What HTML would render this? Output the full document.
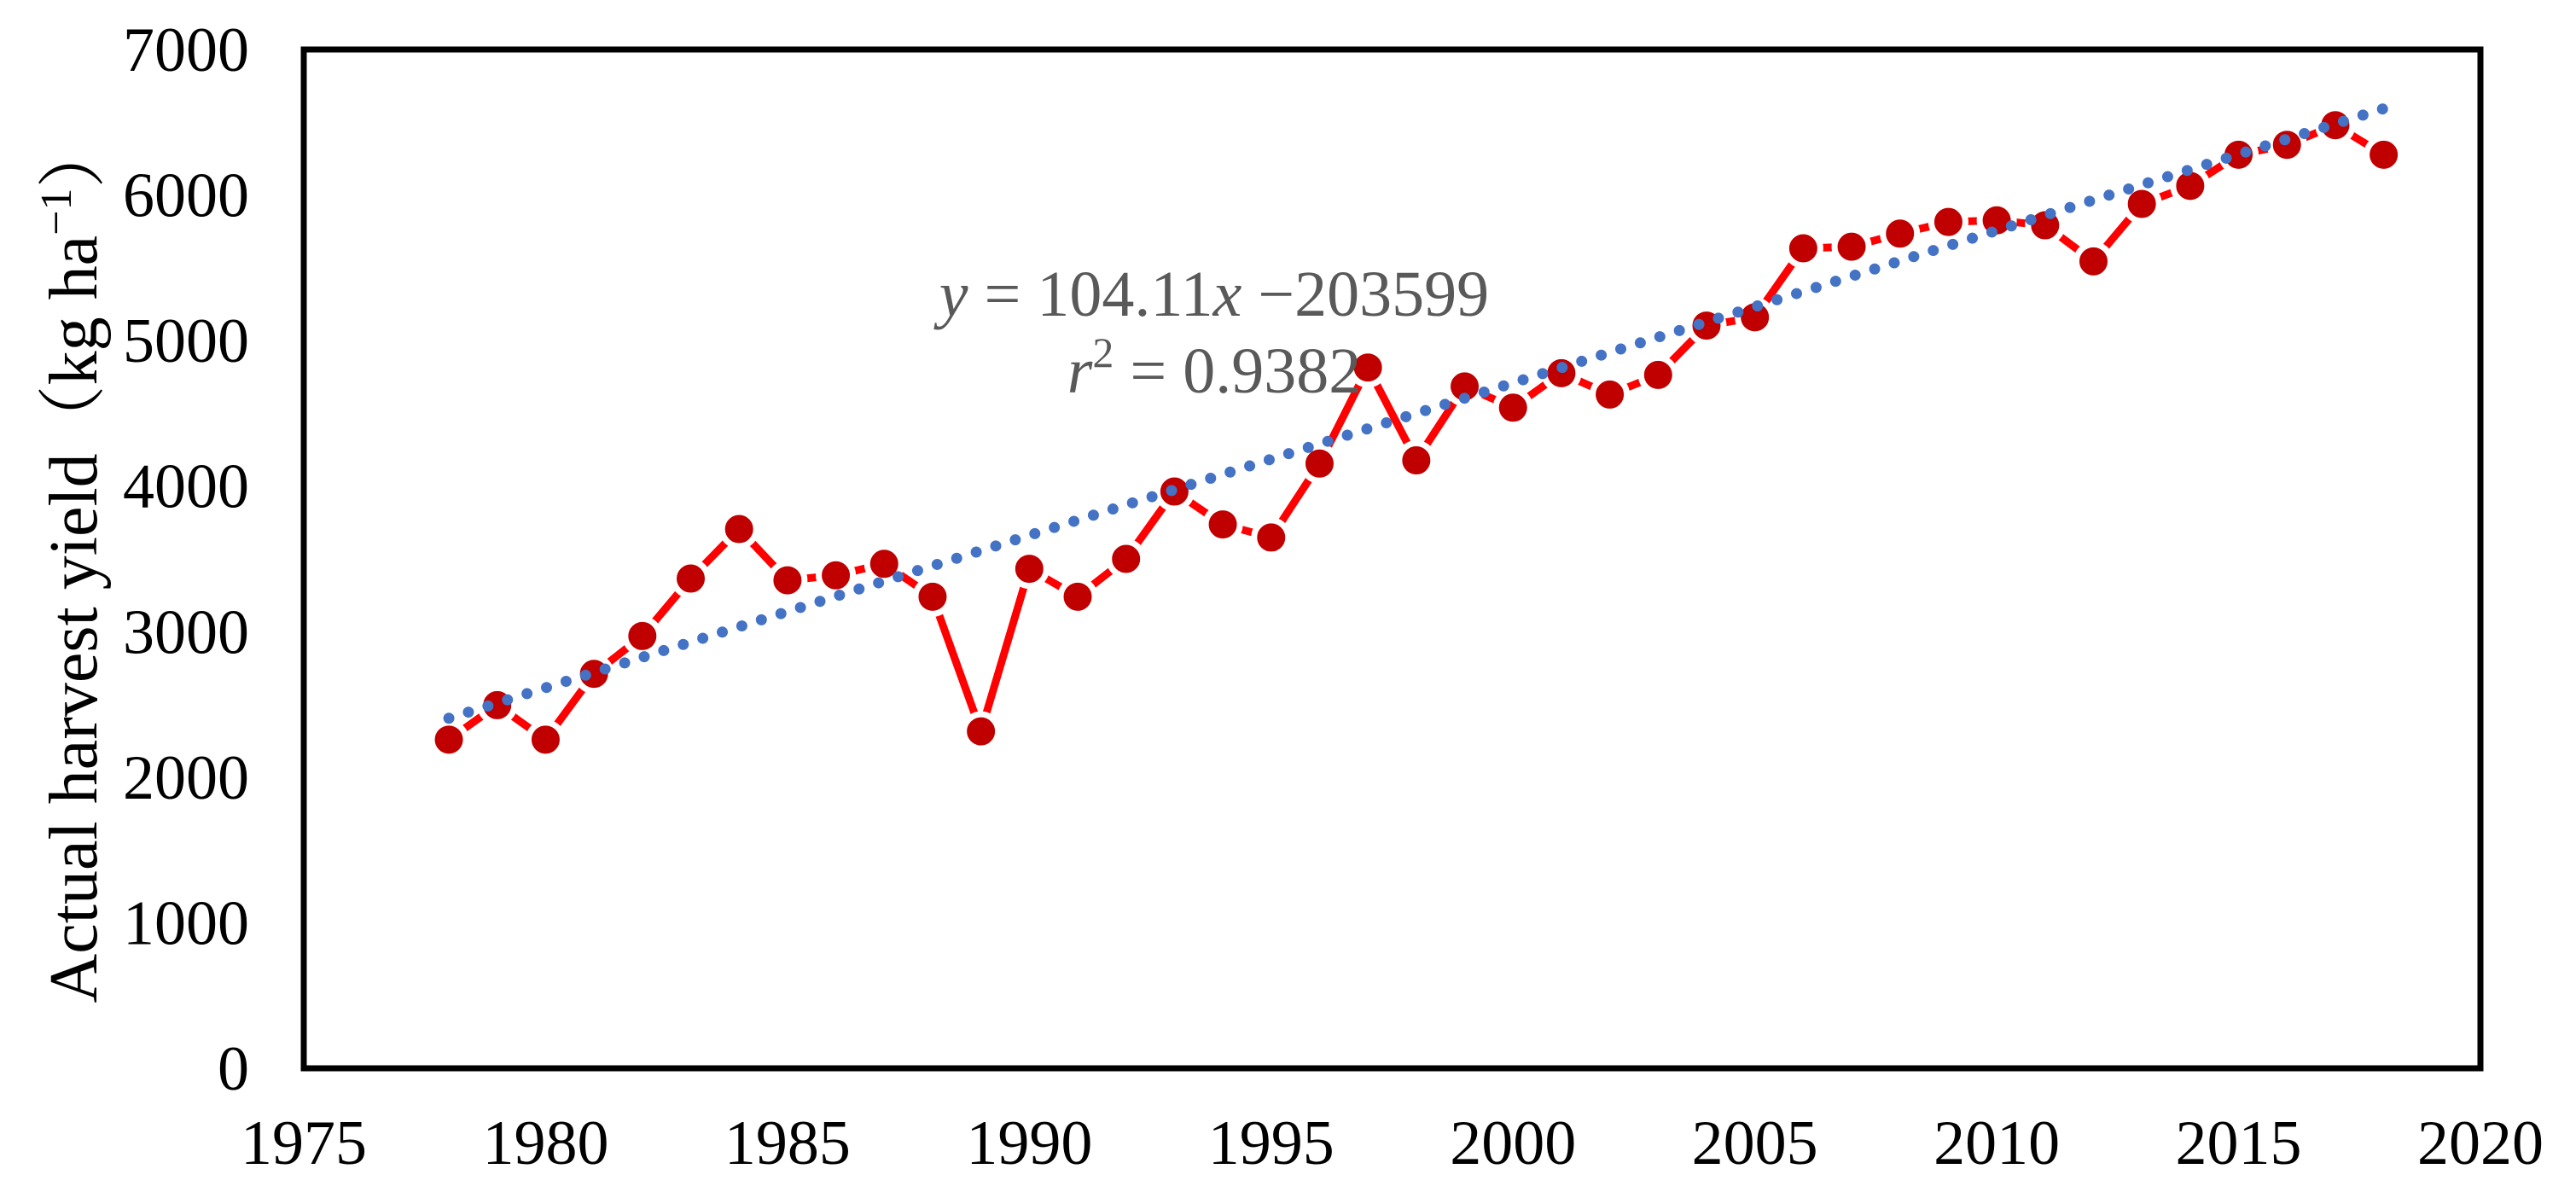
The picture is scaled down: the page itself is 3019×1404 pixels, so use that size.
<!DOCTYPE html>
<html><head><meta charset="utf-8"><style>
html,body{margin:0;padding:0;background:#fff;}
svg{display:block;}
</style></head><body>
<svg id="chart" width="3019" height="1404" viewBox="0 0 3019 1404" xmlns="http://www.w3.org/2000/svg" font-family="'Liberation Serif','Noto Serif CJK SC',serif">
<g id="grid"></g>
<g id="trend"></g>
<g id="series"></g>
<rect x="356" y="58" width="2551" height="1194" fill="none" stroke="#000" stroke-width="7"/>
<g id="yticks"></g>
<g id="xticks"></g>
<text transform="translate(113,658) rotate(-90)" text-anchor="middle" font-size="80" fill="#000">Actual harvest yield<tspan font-family="'Noto Serif CJK SC','Noto Sans CJK SC',serif">（</tspan>kg ha<tspan dy="-30" font-size="52">−1</tspan><tspan dy="30" font-family="'Noto Serif CJK SC','Noto Sans CJK SC',serif">）</tspan></text>
<text x="1423" y="370" text-anchor="middle" font-size="76" fill="#595959"><tspan font-style="italic">y</tspan> = 104.11<tspan font-style="italic">x</tspan> −203599</text>
<text x="1423" y="460" text-anchor="middle" font-size="76" fill="#595959"><tspan font-style="italic">r</tspan><tspan dy="-30" font-size="50">2</tspan><tspan dy="30"> = 0.9382</tspan></text>
</svg>
<script>
const years = [1978,1979,1980,1981,1982,1983,1984,1985,1986,1987,1988,1989,1990,1991,1992,1993,1994,1995,1996,1997,1998,1999,2000,2001,2002,2003,2004,2005,2006,2007,2008,2009,2010,2011,2012,2013,2014,2015,2016,2017,2018];
const yieldValues = [2258,2495,2258,2710,2970,3365,3705,3353,3387,3466,3240,2315,3432,3240,3500,3963,3737,3647,4155,4815,4177,4685,4539,4776,4629,4764,5103,5160,5634,5645,5735,5815,5826,5792,5544,5939,6063,6277,6345,6480,6277];
const trendYears = [1978,2018];
const trendValues = [2405,6594];
const yTickValues = [0,1000,2000,3000,4000,5000,6000,7000];
const xTickValues = [1975,1980,1985,1990,1995,2000,2005,2010,2015,2020];

const NS='http://www.w3.org/2000/svg';
const X0=356,X1=2907,Y0=1252,Y1=58;
const xScale=v=>X0+(v-1975)/(2020-1975)*(X1-X0);
const yScale=v=>Y0-(v-0)/(7000-0)*(Y0-Y1);
function mk(tag,attrs,parent){const e=document.createElementNS(NS,tag);for(const k in attrs)e.setAttribute(k,attrs[k]);parent.appendChild(e);return e;}

const yt=document.getElementById('yticks');
yTickValues.forEach(v=>{const t=mk('text',{x:292,y:yScale(v)+25,'text-anchor':'end','font-size':74,fill:'#000'},yt);


t.textContent=v;});
const xt=document.getElementById('xticks');
xTickValues.forEach(v=>{const t=mk('text',{x:xScale(v),y:1364,'text-anchor':'middle','font-size':74,fill:'#000'},xt);


t.textContent=v;});

const tg=document.getElementById('trend');
const tl=mk('line',{x1:xScale(trendYears[0]),y1:yScale(trendValues[0]),x2:xScale(trendYears[1]),y2:yScale(trendValues[1]),stroke:'#4472C4','stroke-width':13,'stroke-linecap':'round','stroke-dasharray':'0 24'},tg);



const sg=document.getElementById('series');
const pts=years.map((y,i)=>xScale(y)+','+yScale(yieldValues[i])).join(' ');
const pl=mk('polyline',{points:pts,fill:'none',stroke:'#FF0000','stroke-width':9,'stroke-linejoin':'round'},sg);


years.forEach((y,i)=>{const c=mk('circle',{cx:xScale(y),cy:yScale(yieldValues[i]),r:20,fill:'#C00000',stroke:'#fff','stroke-width':7},sg);

});
sg.parentNode.appendChild(tg);
</script>
</body></html>
